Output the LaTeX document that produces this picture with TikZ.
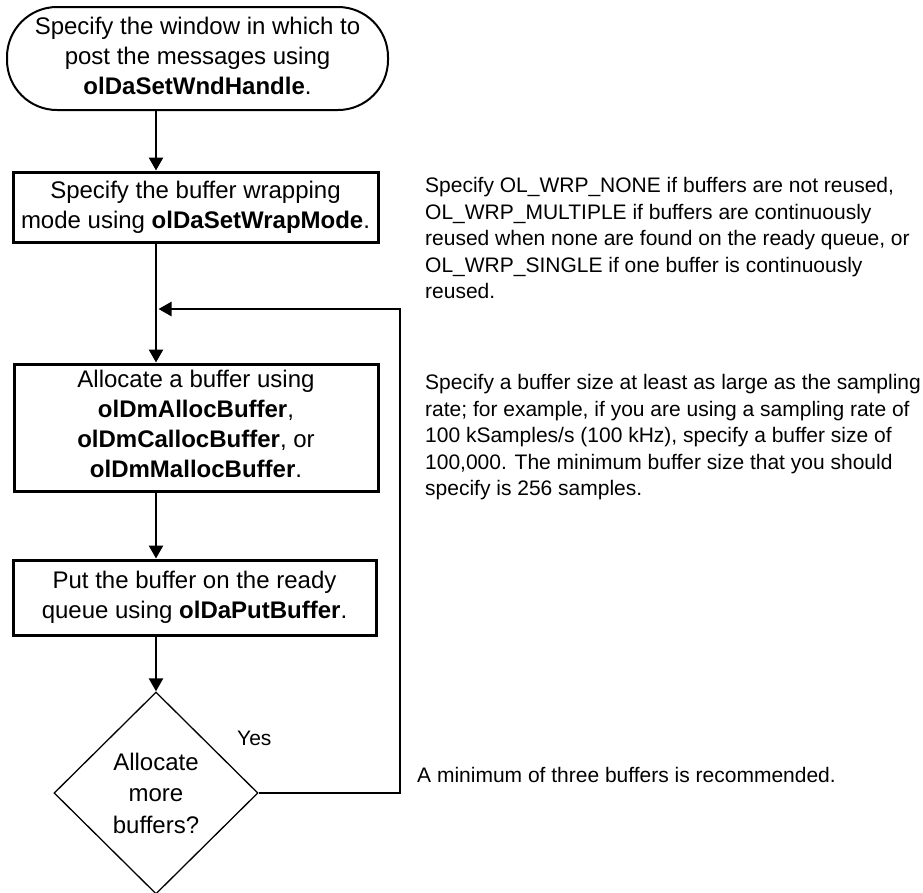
\documentclass[tikz,border=0pt]{standalone}
\usepackage{fontspec}
\setmainfont{Liberation Sans}
\usetikzlibrary{arrows.meta,shapes.geometric}

\begin{document}
\begin{tikzpicture}[x=1pt,y=-1pt,
  boxfont/.style={font=\fontsize{24}{30}\selectfont},
  notefont/.style={font=\fontsize{21}{26.5}\selectfont},
  stepbox/.style={draw, line width=3pt, rectangle, align=center, inner sep=0pt, boxfont},
  startbox/.style={draw, line width=2pt, rectangle, rounded corners=50pt, align=center, inner sep=0pt, boxfont},
  decision/.style={draw, line width=1.3pt, diamond, align=center, inner sep=0pt,
    font=\fontsize{24}{31.5}\selectfont},
  flow/.style={line width=2.5pt, -{Triangle[length=13pt,width=14pt]}},
  note/.style={anchor=north west, align=left, inner sep=0pt, notefont}
]
\useasboundingbox (0,0) rectangle (923,892);
\clip (0,0) rectangle (923,892);

% vertical spine of the flow
\coordinate (spine) at (156,0);

% steps
\node[startbox, minimum width=381pt, minimum height=103pt, text depth=5pt] (start) at (197.5,58.5)
  {Specify the window in which to\\post the messages using\\\textbf{olDaSetWndHandle}.};
\node[stepbox, minimum width=365pt, minimum height=70pt] (wrap) at (195.5,207)
  {Specify the buffer wrapping\\mode using \textbf{olDaSetWrapMode}.};
\node[stepbox, minimum width=364pt, minimum height=127pt, text depth=8pt] (alloc) at (196,427.5)
  {Allocate a buffer using\\\textbf{olDmAllocBuffer},\\\textbf{olDmCallocBuffer}, or\\\textbf{olDmMallocBuffer}.};
\node[stepbox, minimum width=363pt, minimum height=75pt] (put) at (194.5,597.5)
  {Put the buffer on the ready\\queue using \textbf{olDaPutBuffer}.};
\node[decision, minimum width=204pt, minimum height=202pt] (more) at (156,793)
  {Allocate\\more\\buffers?};

% connectors
\draw[flow] (start.south -| spine) -- (wrap.north -| spine);
\draw[flow] (wrap.south -| spine) -- (alloc.north -| spine);
\draw[flow] (alloc.south -| spine) -- (put.north -| spine);
\draw[flow] (put.south -| spine) -- (more.north);

% loop back for more buffers
\coordinate (loop) at (400,309);
\coordinate (merge) at (158.5,309);
\draw[flow] (more.east) -| (loop) -- (merge);
\node[anchor=base west, inner sep=0pt, notefont] (yes) at (237,745) {Yes};

% side notes
\node[note] (wrapnote) at (425,177.5)
  {Specify OL\_WRP\_NONE if buffers are not reused,\\
   OL\_WRP\_MULTIPLE if buffers are continuously\\
   reused when none are found on the ready queue, or\\
   OL\_WRP\_SINGLE if one buffer is continuously\\
   reused.};
\node[note] (sizenote) at (425,374.5)
  {Specify a buffer size at least as large as the sampling\\
   rate; for example, if you are using a sampling rate of\\
   100 kSamples/s (100 kHz), specify a buffer size of\\
   100,000. The minimum buffer size that you should\\
   specify is 256 samples.};
\node[anchor=base west, inner sep=0pt, notefont] (countnote) at (417,782)
  {A minimum of three buffers is recommended.};
\end{tikzpicture}
\end{document}
